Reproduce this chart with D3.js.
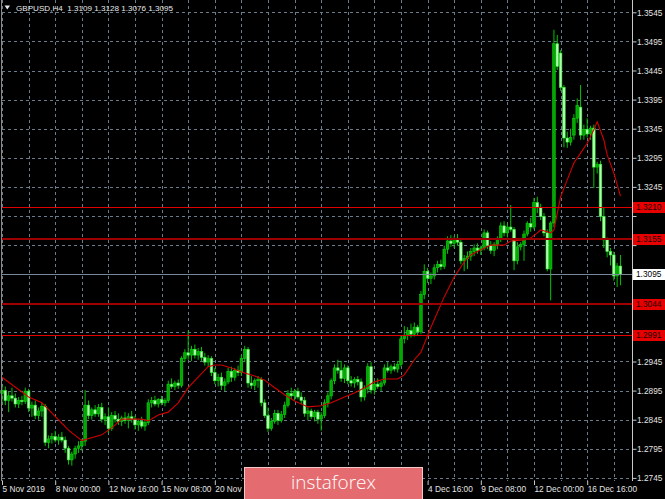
<!DOCTYPE html>
<html><head><meta charset="utf-8">
<script src="https://cdn.jsdelivr.net/npm/d3@7"></script>
<style>html,body{margin:0;padding:0;background:#000;overflow:hidden}</style>
</head><body><svg id="c" width="665" height="499"></svg>
<script>
// ---------------- DATA ----------------
const symbolTitle = "GBPUSD,H4";
const titleValues = ["1.3109","1.3128","1.3076","1.3095"];

const opens = [
1.2890,1.2895,1.2878,1.2886,1.2882,1.2872,1.2878,1.2876,1.2894,1.2865,
1.2870,1.2852,1.2860,1.2868,1.2806,1.2812,1.2816,1.2810,1.2815,1.2810,
1.2796,1.2776,1.2786,1.2796,1.2800,1.2808,1.2870,1.2852,1.2862,1.2855,
1.2866,1.2846,1.2850,1.2830,1.2852,1.2846,1.2842,1.2848,1.2844,1.2850,
1.2846,1.2836,1.2842,1.2834,1.2840,1.2874,1.2878,1.2872,1.2880,1.2874,
1.2878,1.2906,1.2902,1.2908,1.2904,1.2950,1.2960,1.2956,1.2966,1.2956,
1.2962,1.2952,1.2944,1.2950,1.2926,1.2912,1.2918,1.2904,1.2910,1.2928,
1.2918,1.2930,1.2926,1.2950,1.2966,1.2908,1.2904,1.2912,1.2914,1.2874,
1.2852,1.2830,1.2842,1.2856,1.2844,1.2854,1.2870,1.2890,1.2886,1.2894,
1.2884,1.2878,1.2856,1.2860,1.2850,1.2858,1.2846,1.2852,1.2874,1.2886,
1.2912,1.2934,1.2930,1.2916,1.2934,1.2912,1.2908,1.2914,1.2910,1.2884,
1.2898,1.2936,1.2896,1.2906,1.2902,1.2908,1.2934,1.2930,1.2936,1.2932,
1.2940,1.2984,1.2990,1.2998,1.2992,1.3004,1.2996,1.3060,1.3100,1.3088,
1.3092,1.3106,1.3112,1.3108,1.3138,1.3152,1.3148,1.3154,1.3150,1.3118,
1.3122,1.3126,1.3134,1.3140,1.3136,1.3140,1.3166,1.3144,1.3136,1.3146,
1.3156,1.3178,1.3166,1.3176,1.3172,1.3118,1.3142,1.3146,1.3164,1.3182,
1.3176,1.3218,1.3210,1.3194,1.3166,1.3104,1.3183,1.3491,1.3475,1.3416,
1.3329,1.3322,1.3334,1.3363,1.3382,1.3334,1.3344,1.3336,1.3346,1.3279,
1.3284,1.3194,1.3154,1.3134,1.3128,1.3092,1.3109];

const highs = [
1.2905,1.2902,1.2893,1.2900,1.2890,1.2884,1.2886,1.2900,1.2898,1.2876,
1.2878,1.2866,1.2874,1.2872,1.2818,1.2822,1.2826,1.2820,1.2824,1.2816,
1.2800,1.2790,1.2800,1.2808,1.2812,1.2896,1.2878,1.2866,1.2870,1.2872,
1.2874,1.2856,1.2866,1.2858,1.2860,1.2856,1.2852,1.2858,1.2856,1.2860,
1.2852,1.2846,1.2850,1.2846,1.2880,1.2884,1.2886,1.2882,1.2886,1.2882,
1.2912,1.2916,1.2912,1.2914,1.2954,1.2966,1.2998,1.2972,1.2974,1.2968,
1.2970,1.2960,1.2956,1.2954,1.2934,1.2924,1.2926,1.2916,1.2934,1.2936,
1.2934,1.2938,1.2956,1.2972,1.2970,1.2920,1.2916,1.2920,1.2918,1.2880,
1.2866,1.2848,1.2862,1.2862,1.2860,1.2876,1.2896,1.2900,1.2898,1.2900,
1.2892,1.2884,1.2866,1.2864,1.2862,1.2862,1.2858,1.2880,1.2892,1.2916,
1.2940,1.2948,1.2946,1.2940,1.2938,1.2920,1.2918,1.2920,1.2916,1.2904,
1.2942,1.2944,1.2912,1.2916,1.2912,1.2940,1.2944,1.2940,1.2942,1.2946,
1.2990,1.3006,1.3004,1.3010,1.3012,1.3008,1.3066,1.3112,1.3106,1.3098,
1.3112,1.3118,1.3120,1.3144,1.3160,1.3162,1.3160,1.3164,1.3156,1.3128,
1.3134,1.3140,1.3146,1.3148,1.3144,1.3172,1.3170,1.3152,1.3150,1.3160,
1.3184,1.3186,1.3182,1.3214,1.3176,1.3150,1.3150,1.3170,1.3186,1.3192,
1.3226,1.3228,1.3216,1.3200,1.3172,1.3186,1.3515,1.3506,1.3480,1.3420,
1.3340,1.3345,1.3370,1.3397,1.3420,1.3352,1.3363,1.3350,1.3352,1.3288,
1.3290,1.3210,1.3158,1.3140,1.3134,1.3114,1.3128];

const lows = [
1.2872,1.2870,1.2858,1.2876,1.2866,1.2865,1.2870,1.2872,1.2858,1.2850,
1.2846,1.2845,1.2850,1.2800,1.2796,1.2804,1.2806,1.2802,1.2806,1.2788,
1.2768,1.2766,1.2778,1.2788,1.2792,1.2800,1.2846,1.2845,1.2850,1.2850,
1.2840,1.2836,1.2822,1.2826,1.2840,1.2836,1.2834,1.2838,1.2830,1.2840,
1.2828,1.2826,1.2830,1.2826,1.2836,1.2866,1.2868,1.2866,1.2870,1.2868,
1.2874,1.2898,1.2896,1.2898,1.2900,1.2944,1.2948,1.2946,1.2950,1.2948,
1.2946,1.2938,1.2936,1.2920,1.2906,1.2902,1.2896,1.2894,1.2906,1.2910,
1.2912,1.2920,1.2920,1.2944,1.2900,1.2898,1.2896,1.2900,1.2868,1.2848,
1.2824,1.2826,1.2838,1.2836,1.2840,1.2848,1.2866,1.2880,1.2878,1.2880,
1.2872,1.2850,1.2844,1.2846,1.2842,1.2838,1.2826,1.2848,1.2866,1.2880,
1.2906,1.2924,1.2910,1.2908,1.2906,1.2902,1.2900,1.2904,1.2876,1.2878,
1.2890,1.2890,1.2888,1.2898,1.2894,1.2904,1.2926,1.2924,1.2928,1.2926,
1.2936,1.2976,1.2982,1.2986,1.2988,1.2990,1.2992,1.3052,1.3080,1.3078,
1.3086,1.3098,1.3102,1.3104,1.3130,1.3142,1.3140,1.3144,1.3112,1.3100,
1.3104,1.3118,1.3126,1.3130,1.3128,1.3136,1.3138,1.3130,1.3126,1.3138,
1.3150,1.3160,1.3158,1.3168,1.3102,1.3112,1.3136,1.3118,1.3160,1.3168,
1.3172,1.3200,1.3188,1.3160,1.3100,1.3050,1.3176,1.3446,1.3410,1.3313,
1.3312,1.3316,1.3326,1.3355,1.3326,1.3326,1.3330,1.3326,1.3243,1.3268,
1.3186,1.3140,1.3124,1.3110,1.3084,1.3073,1.3076];

const closes = [
1.2895,1.2878,1.2886,1.2882,1.2872,1.2878,1.2876,1.2894,1.2865,1.2870,
1.2852,1.2860,1.2868,1.2806,1.2812,1.2816,1.2810,1.2815,1.2810,1.2796,
1.2776,1.2786,1.2796,1.2800,1.2808,1.2870,1.2852,1.2862,1.2855,1.2866,
1.2846,1.2850,1.2830,1.2852,1.2846,1.2842,1.2848,1.2844,1.2850,1.2846,
1.2836,1.2842,1.2834,1.2840,1.2874,1.2878,1.2872,1.2880,1.2874,1.2878,
1.2906,1.2902,1.2908,1.2904,1.2950,1.2960,1.2956,1.2966,1.2956,1.2962,
1.2952,1.2944,1.2950,1.2926,1.2912,1.2918,1.2904,1.2910,1.2928,1.2918,
1.2930,1.2926,1.2950,1.2966,1.2908,1.2904,1.2912,1.2914,1.2874,1.2852,
1.2830,1.2842,1.2856,1.2844,1.2854,1.2870,1.2890,1.2886,1.2894,1.2884,
1.2878,1.2856,1.2860,1.2850,1.2858,1.2846,1.2852,1.2874,1.2886,1.2912,
1.2934,1.2930,1.2916,1.2934,1.2912,1.2908,1.2914,1.2910,1.2884,1.2898,
1.2936,1.2896,1.2906,1.2902,1.2908,1.2934,1.2930,1.2936,1.2932,1.2940,
1.2984,1.2990,1.2998,1.2992,1.3004,1.2996,1.3060,1.3100,1.3088,1.3092,
1.3106,1.3112,1.3108,1.3138,1.3152,1.3148,1.3154,1.3150,1.3118,1.3122,
1.3126,1.3134,1.3140,1.3136,1.3140,1.3166,1.3144,1.3136,1.3146,1.3156,
1.3178,1.3166,1.3176,1.3172,1.3118,1.3142,1.3146,1.3164,1.3182,1.3176,
1.3218,1.3210,1.3194,1.3166,1.3104,1.3183,1.3491,1.3452,1.3416,1.3329,
1.3322,1.3330,1.3363,1.3385,1.3334,1.3344,1.3336,1.3346,1.3279,1.3284,
1.3194,1.3154,1.3134,1.3128,1.3092,1.3109,1.3095];

// moving average, read at sampled bars
const maBars = [0,8,12,20,24,30,33,36,42,44,47,50,53,56,59,62,64,66,69,72,76,79,82,85,88,92,96,99,103,106,110,112,115,119,121,124,126,129,133,136,139,141,144,147,151,153,157,159,161,162,164,165,166,167,168,170,172,174,176,178,179,181,182,184,186];
const maValues = [1.2918,1.2884,1.2874,1.2827,1.2809,1.2819,1.2831,1.2846,1.2846,1.2843,1.2853,1.2858,1.2874,1.2900,1.2918,1.2936,1.2939,1.2939,1.2934,1.2927,1.2920,1.2913,1.2900,1.2888,1.2877,1.2867,1.2869,1.2874,1.2884,1.2891,1.2903,1.2910,1.2915,1.2915,1.2922,1.2948,1.2961,1.3004,1.3056,1.3090,1.3116,1.3128,1.3137,1.3145,1.3145,1.3152,1.3154,1.3157,1.3166,1.3171,1.3168,1.3166,1.3171,1.3200,1.3228,1.3257,1.3286,1.3303,1.3320,1.3343,1.3357,1.3326,1.3300,1.3269,1.3229];

const timeLabelBars = [0,16,32,48,64,80,96,112,128,144,160,176];
const timeLabels = ["5 Nov 2019","8 Nov 00:00","12 Nov 16:00","15 Nov 08:00","20 Nov 00:00","22 Nov 16:00","27 Nov 08:00","2 Dec 00:00","4 Dec 16:00","9 Dec 08:00","12 Dec 00:00","16 Dec 16:00"];
const priceTicks = [1.2745,1.2795,1.2845,1.2895,1.2945,1.2995,1.3045,1.3095,1.3145,1.3195,1.3245,1.3295,1.3345,1.3395,1.3445,1.3495,1.3545];
const levelValues = [1.3210,1.3155,1.3044,1.2991];
const bidValue = 1.3095;
const logoText = "instaforex";

// ---------------- DRAW ----------------
const W = 665, H = 499;
const plotL = 2, plotR = 632, plotB = 481;
const logoX0 = 244.5, logoX1 = 422.5;
const nBars = opens.length;
const svg = d3.select("#c");
svg.append("rect").attr("width", W).attr("height", H).attr("fill", "#000");

const x = d3.scaleLinear().domain([0, 189.2]).range([2, 2 + 3.325 * 189.2]);
const y = d3.scaleLinear().domain([1.2745, 1.3545]).range([477.9, 12.3]);
const fontFam = "'Liberation Sans', Arial, sans-serif";
const crisp = v => Math.round(v) + 0.5;

// grid
const grid = svg.append("g").attr("stroke", "#6a7b8c").attr("stroke-width", 1).attr("stroke-dasharray", "3,3");
grid.selectAll("line.h").data(priceTicks).join("line").attr("class", "h")
  .attr("x1", plotL).attr("x2", plotR).attr("y1", d => crisp(y(d))).attr("y2", d => crisp(y(d)));
grid.selectAll("line.v").data(d3.range(0, nBars, 8)).join("line").attr("class", "v")
  .attr("x1", d => crisp(x(d))).attr("x2", d => crisp(x(d))).attr("y1", 0).attr("y2", plotB);

// candles
const bars = d3.range(nBars).map(i => ({i, o: opens[i], h: highs[i], l: lows[i], c: closes[i]}));
const cg = svg.append("g");
cg.selectAll("line").data(bars).join("line")
  .attr("x1", d => x(d.i)).attr("x2", d => x(d.i))
  .attr("y1", d => y(d.h)).attr("y2", d => y(d.l))
  .attr("stroke", "#00c400").attr("stroke-width", 1);
cg.selectAll("rect").data(bars).join("rect")
  .attr("x", d => x(d.i) - 1.3).attr("width", 2.6)
  .attr("y", d => y(Math.max(d.o, d.c)))
  .attr("height", d => Math.max(0.8, Math.abs(y(d.o) - y(d.c))))
  .attr("fill", d => d.c >= d.o ? "#00a800" : "#b4ffb4")
  .attr("stroke", d => d.c >= d.o ? "#10d010" : "#30f030")
  .attr("stroke-width", 0.6);

// moving average
const maPts = maBars.map((b, k) => ({b, v: maValues[k]}));
svg.append("path").datum(maPts)
  .attr("d", d3.line().x(d => x(d.b)).y(d => y(d.v)))
  .attr("fill", "none").attr("stroke", "#d00000").attr("stroke-width", 1.1);

// horizontal levels
const levelStyles = [
  {stroke: "#e00000", width: 1},
  {stroke: "#9c0000", width: 2},
  {stroke: "#9c0000", width: 2},
  {stroke: "#e00000", width: 1}
];
svg.append("g").selectAll("line").data(levelValues).join("line")
  .attr("x1", plotL).attr("x2", plotR)
  .attr("y1", (d, k) => levelStyles[k].width === 1 ? crisp(y(d)) : Math.round(y(d)))
  .attr("y2", (d, k) => levelStyles[k].width === 1 ? crisp(y(d)) : Math.round(y(d)))
  .attr("stroke", (d, k) => levelStyles[k].stroke).attr("stroke-width", (d, k) => levelStyles[k].width);
// bid line
svg.append("line").attr("x1", plotL).attr("x2", plotR)
  .attr("y1", crisp(y(bidValue))).attr("y2", crisp(y(bidValue)))
  .attr("stroke", "#778899").attr("stroke-width", 1);

// frame
svg.append("line").attr("x1", plotR + 0.5).attr("x2", plotR + 0.5).attr("y1", 0).attr("y2", plotB)
  .attr("stroke", "#c8c8c8");
svg.append("line").attr("x1", 1.5).attr("x2", 1.5).attr("y1", 0).attr("y2", plotB)
  .attr("stroke", "#8a8a8a");

// right axis
const boxed = levelValues.concat([bidValue]);
const yAxis = d3.axisRight(y).tickValues(priceTicks).tickFormat(d3.format(".4f")).tickSize(4).tickPadding(1);
const gy = svg.append("g").attr("transform", `translate(${plotR},0)`).call(yAxis);
gy.select(".domain").remove();
gy.selectAll(".tick line").attr("stroke", "#c8c8c8").attr("transform", "translate(0.5,0)");
gy.selectAll(".tick text").attr("fill", "#e4e4e4").style("font-family", fontFam).style("font-size", "8.3px")
  .attr("dy", "0.35em");
// labels hidden behind the level boxes in the reference
gy.selectAll(".tick").filter(d => boxed.some(b => Math.abs(y(b) - y(d)) < 9)).select("text").remove();

// bottom axis
const xAxis = d3.axisBottom(x).tickValues(timeLabelBars).tickFormat((d, k) => timeLabels[k]).tickSize(4);
const gx = svg.append("g").attr("transform", `translate(0,${plotB})`).call(xAxis);
gx.select(".domain").remove();
gx.selectAll(".tick line").attr("stroke", "#c8c8c8");
gx.selectAll(".tick text").attr("fill", "#e4e4e4").style("font-family", fontFam).style("font-size", "8.3px")
  .attr("text-anchor", "start").attr("y", 10.5).attr("dy", null).attr("x", 0);
// labels that lie entirely behind the logo are not visible in the reference
gx.selectAll(".tick").filter(d => x(d) > logoX0 && x(d) < logoX1).select("text").remove();

// level labels
const lab = svg.append("g");
levelValues.forEach(v => {
  const cy = y(v);
  lab.append("rect").attr("x", 633).attr("y", Math.round(cy) - 5).attr("width", 32).attr("height", 11).attr("fill", "#e60000");
  lab.append("text").attr("x", 636).attr("y", cy + 3.2).text(d3.format(".4f")(v))
    .attr("fill", "#1a0000").style("font-family", fontFam).style("font-size", "8.3px");
});
{
  const cy = y(bidValue);
  lab.append("rect").attr("x", 633).attr("y", Math.round(cy) - 5).attr("width", 32).attr("height", 11).attr("fill", "#ffffff");
  lab.append("text").attr("x", 636).attr("y", cy + 3.2).text(d3.format(".4f")(bidValue))
    .attr("fill", "#000").style("font-family", fontFam).style("font-size", "8.3px");
}

// title
svg.append("path").attr("d", "M4.5,5.5 L10,5.5 L7.25,9.5 Z").attr("fill", "#e8e8e8");
svg.append("text").attr("x", 16).attr("y", 10.8)
  .style("white-space", "pre").style("font-family", fontFam).style("font-size", "8.1px").attr("fill", "#e8e8e8")
  .text(symbolTitle + "  " + titleValues.join(" "));

// logo
svg.append("rect").attr("x", logoX0).attr("y", 467.5).attr("width", logoX1 - logoX0).attr("height", 33)
  .attr("fill", "#e46c70").attr("stroke", "#f2c8c8").attr("stroke-width", 1);
svg.append("text").attr("x", (logoX0 + logoX1) / 2).attr("y", 489).attr("text-anchor", "middle")
  .style("font-family", "'Open Sans', Roboto, sans-serif").style("font-size", "19px").style("font-weight", 300)
  .attr("fill", "#ffffff").text(logoText);
</script>
</body></html>
